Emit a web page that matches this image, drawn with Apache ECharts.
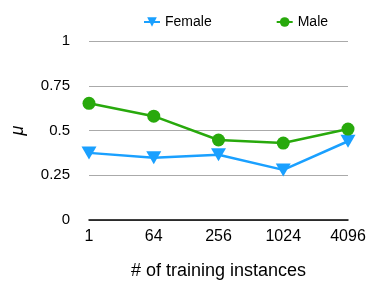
<!DOCTYPE html>
<html lang="en">
<head>
    <meta charset="UTF-8">
    <title>mu vs training instances</title>
    <style>
        html, body { margin: 0; padding: 0; background: #fff; }
    </style>
</head>
<body>
<div id="main" style="width: 371px;height:285px;"></div>
<script src="https://cdn.jsdelivr.net/npm/echarts@6/dist/echarts.min.js"></script>
<script>
    var sizes = ['1', '64', '256', '1024', '4096'];
    var female = [0.375, 0.348, 0.365, 0.28, 0.44];
    var male = [0.652, 0.58, 0.447, 0.43, 0.508];
    var yTicks = [0, 0.25, 0.5, 0.75, 1];

    var font = 'Liberation Sans, Arial, sans-serif';
    var myChart = echarts.init(document.getElementById('main'));

    var option = {
        animation: false,
        textStyle: { fontFamily: font },
        legend: {
            top: 10,
            left: 138,
            itemGap: 64,
            itemWidth: 16,
            itemHeight: 12,
            textStyle: { fontSize: 14, color: '#000', fontFamily: font },
            data: ['Female', 'Male']
        },
        grid: { left: 89, right: 23, top: 41, bottom: 63 },
        xAxis: {
            type: 'category',
            data: sizes,
            boundaryGap: false,
            name: '# of training instances',
            nameLocation: 'middle',
            nameGap: 42,
            nameTextStyle: { fontSize: 18, color: '#000', fontFamily: font },
            axisLine: { show: true, lineStyle: { color: '#000', width: 1.5 } },
            axisTick: { show: false },
            axisLabel: { fontSize: 16, color: '#000', margin: 9, fontFamily: font }
        },
        yAxis: {
            type: 'value',
            min: yTicks[0],
            max: yTicks[yTicks.length - 1],
            interval: 0.25,
            name: 'μ',
            nameLocation: 'middle',
            nameGap: 62,
            nameRotate: 90,
            nameTextStyle: { fontSize: 18, fontStyle: 'italic', color: '#000', fontFamily: font },
            axisLine: { show: false },
            axisTick: { show: false },
            axisLabel: { fontSize: 15, color: '#000', margin: 19, fontFamily: font },
            splitLine: { lineStyle: { color: '#aaa', width: 1 } }
        },
        series: [
            {
                name: 'Female',
                type: 'line',
                data: female,
                symbol: 'path://M0,0 L10,0 L5,9 Z',
                symbolSize: [15, 13],
                itemStyle: { color: '#1aa0ff' },
                lineStyle: { color: '#1aa0ff', width: 2.5 }
            },
            {
                name: 'Male',
                type: 'line',
                data: male,
                symbol: 'circle',
                symbolSize: 13,
                itemStyle: { color: '#28a90c' },
                lineStyle: { color: '#28a90c', width: 2.5 }
            }
        ]
    };
    myChart.setOption(option);
</script>
</body>
</html>
